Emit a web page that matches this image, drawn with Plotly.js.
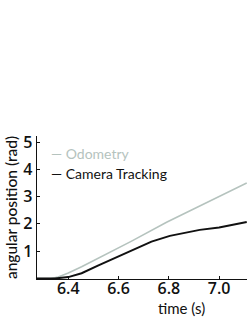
<!DOCTYPE html>
<html>
<head>
<meta charset="utf-8">
<script src="https://cdn.plot.ly/plotly-3.0.1.min.js"></script>
<style>html,body{margin:0;padding:0;background:#fff;}#chart{width:247px;height:319px;}</style>
</head>
<body>
<div id="chart"></div>
<script>
const odoTime = [6.275, 6.33, 6.36, 6.40, 6.453, 6.55, 6.65, 6.791, 6.90, 7.00, 7.11];
const odoPos  = [0.00, 0.00, 0.05, 0.20, 0.43, 0.88, 1.36, 2.06, 2.55, 3.02, 3.50];
const camTime = [6.275, 6.347, 6.40, 6.453, 6.52, 6.58, 6.645, 6.70, 6.731, 6.804, 6.86, 6.923, 7.00, 7.05, 7.11];
const camPos  = [0.00, 0.00, 0.05, 0.19, 0.48, 0.72, 0.98, 1.22, 1.35, 1.56, 1.66, 1.78, 1.87, 1.95, 2.07];
const xTicks = [6.4, 6.6, 6.8, 7.0];
const xTickText = ['6.4', '6.6', '6.8', '7.0'];
const yTicks = [1, 2, 3, 4, 5];
const seriesNames = ['Odometry', 'Camera Tracking'];
const odoColor = '#b5c3be';
const camColor = '#111111';

const font = 'Lato, "Open Sans", sans-serif';
const tickFont = '"Open Sans", Lato, sans-serif';

const traces = [
  {x: odoTime, y: odoPos, mode: 'lines', name: seriesNames[0], line: {color: odoColor, width: 1.6}, showlegend: false},
  {x: camTime, y: camPos, mode: 'lines', name: seriesNames[1], line: {color: camColor, width: 2}, showlegend: false}
];

const layout = {
  width: 247, height: 319,
  margin: {l: 37, r: 0, t: 136, b: 40, pad: 0},
  paper_bgcolor: '#fff', plot_bgcolor: '#fff',
  font: {family: font, color: '#111', size: 14},
  xaxis: {
    range: [6.2755, 7.111], tickvals: xTicks, ticktext: xTickText,
    showgrid: false, zeroline: false, showline: true, linecolor: '#111', linewidth: 1.3,
    ticks: 'inside', ticklen: 3, tickcolor: '#111', tickwidth: 1,
    ticklabelstandoff: -6,
    tickfont: {family: tickFont, size: 16, color: '#111', weight: 600}
  },
  yaxis: {
    range: [-0.02, 5.22], tickvals: yTicks,
    showgrid: false, zeroline: false, showline: true, linecolor: '#111', linewidth: 1.3,
    ticks: 'inside', ticklen: 3, tickcolor: '#111', tickwidth: 1,
    ticklabelstandoff: 0,
    tickfont: {family: tickFont, size: 16, color: '#111', weight: 600},
    title: {text: 'angular position (rad)', font: {family: font, size: 15.5, color: '#111', weight: 500}, standoff: 2}
  },
  annotations: [
    {xref: 'paper', yref: 'paper', x: 0.055, y: 0.88, xanchor: 'left', yanchor: 'middle', showarrow: false,
     text: '— ' + seriesNames[0], font: {family: font, size: 14, color: odoColor}},
    {xref: 'paper', yref: 'paper', x: 0.055, y: 0.735, xanchor: 'left', yanchor: 'middle', showarrow: false,
     text: '— ' + seriesNames[1], font: {family: font, size: 14, color: camColor}},
    {xref: 'paper', yref: 'paper', x: 0.69, y: -0.2, xanchor: 'center', yanchor: 'middle', showarrow: false,
     text: 'time (s)', font: {family: font, size: 15, color: '#111'}}
  ]
};

Plotly.newPlot('chart', traces, layout, {displayModeBar: false, staticPlot: true});
</script>
</body>
</html>
